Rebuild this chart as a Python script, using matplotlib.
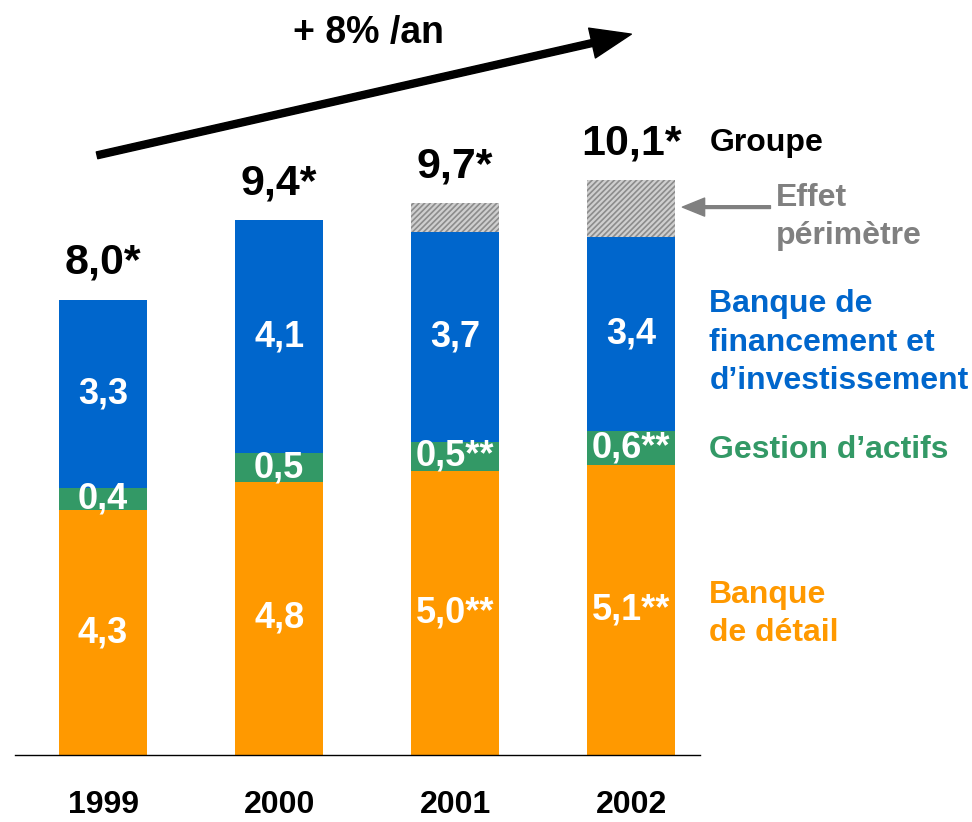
import matplotlib.pyplot as plt
import numpy as np

plt.rcParams['font.family'] = ['Liberation Sans', 'DejaVu Sans']
plt.rcParams['hatch.linewidth'] = 1.2

years = ['1999', '2000', '2001', '2002']
detail = [4.3, 4.8, 5.0, 5.1]
gestion = [0.4, 0.5, 0.5, 0.6]
bfi = [3.3, 4.1, 3.7, 3.4]
perimetre = [0.0, 0.0, 0.5, 1.0]
totals = [8.0, 9.4, 9.7, 10.1]

detail_lbl = ['4,3', '4,8', '5,0**', '5,1**']
gestion_lbl = ['0,4', '0,5', '0,5**', '0,6**']
bfi_lbl = ['3,3', '4,1', '3,7', '3,4']
total_lbl = ['8,0*', '9,4*', '9,7*', '10,1*']

ORANGE = '#FF9900'
GREEN = '#339966'
BLUE = '#0066CC'
GREY = '#808080'

fig = plt.figure(figsize=(9.72, 8.22), dpi=100)
ax = fig.add_axes([15 / 972, 67 / 822, 685 / 972, 755 / 822])
ax.set_xlim(-0.5, 3.39)
ax.set_ylim(0, 13.27)

x = np.arange(len(years))
w = 0.5
b1 = np.array(detail)
b2 = b1 + np.array(gestion)
b3 = b2 + np.array(bfi)

ax.bar(x, detail, w, color=ORANGE)
ax.bar(x, gestion, w, bottom=b1, color=GREEN)
ax.bar(x, bfi, w, bottom=b2, color=BLUE)
ax.bar(x, perimetre, w, bottom=b3, color='#cfcfcf', edgecolor='#8c8c8c',
       hatch='//////', linewidth=0)

lab = dict(color='white', fontsize=26, fontweight='bold', ha='center', va='center')
for i in range(len(years)):
    ax.text(x[i], detail[i] / 2, detail_lbl[i], **lab)
    ax.text(x[i], b1[i] + gestion[i] / 2, gestion_lbl[i], **lab)
    ax.text(x[i], b2[i] + bfi[i] / 2, bfi_lbl[i], **lab)
    ax.text(x[i], totals[i] + 0.65, total_lbl[i], fontsize=31, fontweight='bold',
            ha='center', va='center')
    ax.text(x[i], -0.88, years[i], fontsize=23, fontweight='bold',
            ha='center', va='center', clip_on=False)

# growth arrow
ax.annotate('', xy=(3.0, 12.67), xytext=(-0.034, 10.54),
            arrowprops=dict(arrowstyle='simple,head_width=1.1,head_length=1.45,tail_width=0.25',
                            mutation_scale=20, color='black', shrinkA=0, shrinkB=0))
ax.text(1.506, 12.69, '+ 8% /an', fontsize=27, fontweight='bold',
        ha='center', va='center')

# legend labels on the right
side = dict(fontsize=23, fontweight='bold', ha='left', va='center',
            clip_on=False, linespacing=1.35)
ax.text(3.443, 10.76, 'Groupe', color='black', **side)
ax.text(3.82, 9.45, 'Effet\npérimètre', color=GREY, **side)
ax.text(3.443, 7.25, 'Banque de\nfinancement et\nd\u2019investissement', color=BLUE, **side)
ax.text(3.443, 5.36, 'Gestion d\u2019actifs', color=GREEN, **side)
ax.text(3.443, 2.48, 'Banque\nde détail', color=ORANGE, **side)
ax.annotate('', xy=(3.29, 9.63), xytext=(3.79, 9.63), annotation_clip=False,
            arrowprops=dict(arrowstyle='simple,head_width=1.3,head_length=1.6,tail_width=0.2',
                            mutation_scale=10, color=GREY, shrinkA=0, shrinkB=0))

for s in ['top', 'right', 'left']:
    ax.spines[s].set_visible(False)
ax.spines['bottom'].set_linewidth(1)
ax.set_xticks([])
ax.set_yticks([])

fig.savefig('out.png', dpi=100)
